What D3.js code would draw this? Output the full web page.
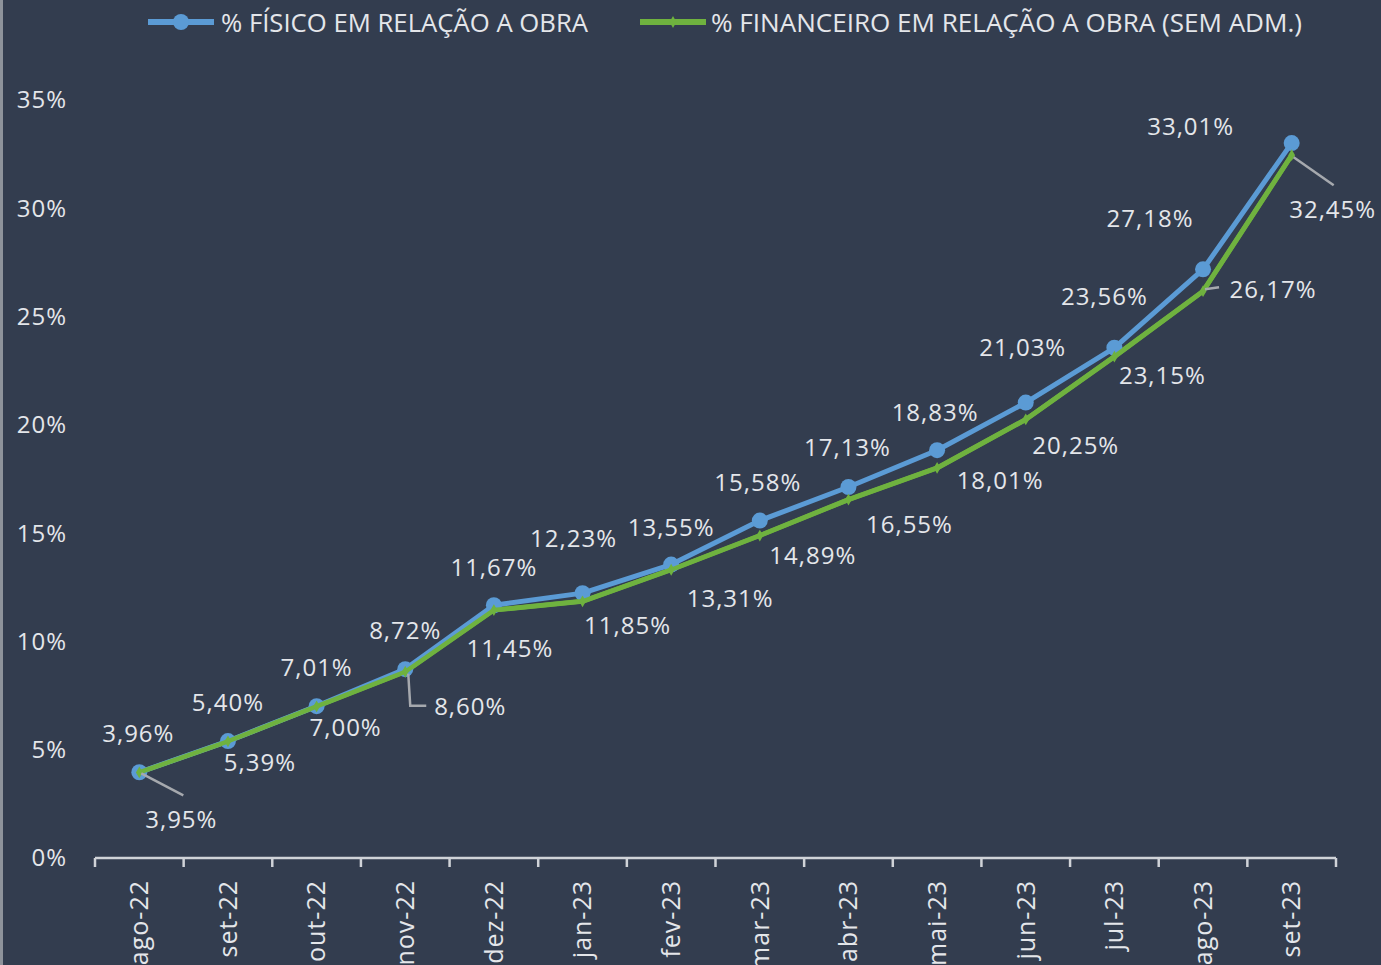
<!DOCTYPE html>
<html>
<head>
<meta charset="utf-8">
<script src="https://cdn.jsdelivr.net/npm/d3@7"></script>
<style>
  html, body { margin: 0; padding: 0; background: #333d4f; overflow: hidden; }
  svg { display: block; }
</style>
</head>
<body>
<div id="chart"></div>
<script>
const months = ["ago-22", "set-22", "out-22", "nov-22", "dez-22", "jan-23", "fev-23",
  "mar-23", "abr-23", "mai-23", "jun-23", "jul-23", "ago-23", "set-23"];
const fisico = [3.96, 5.40, 7.01, 8.72, 11.67, 12.23, 13.55, 15.58, 17.13, 18.83, 21.03, 23.56, 27.18, 33.01];
const financeiro = [3.95, 5.39, 7.00, 8.60, 11.45, 11.85, 13.31, 14.89, 16.55, 18.01, 20.25, 23.15, 26.17, 32.45];
const yTicks = [0, 5, 10, 15, 20, 25, 30, 35];
const seriesNames = ["% FÍSICO EM RELAÇÃO A OBRA", "% FINANCEIRO EM RELAÇÃO A OBRA (SEM ADM.)"];

// label offsets (pixels from the point) to mimic the placed data labels
const fisicoOff = [[-1,-39],[0,-38],[0,-39],[0,-39],[0,-38],[-9,-55],[0,-37],[-2,-38],[-1,-39],[-2,-38],[-3,-55],[-10,-51],[-53,-51],[-101,-16]];
const finOff = [[42,47],[32,21],[29,21],[65,35],[16,39],[45,24],[59,29],[53,20],[61,25],[63,13],[50,26],[48,19],[70,-2],[41,54]];

const width = 1381, height = 965;
const blue = "#5b9bd5", green = "#6fb23f", txt = "#e4e6ea";
const font = "'Open Sans', 'Noto Sans', sans-serif";

const svg = d3.select("#chart").append("svg")
  .attr("width", width).attr("height", height);

svg.append("rect").attr("x", 1.5).attr("y", -2).attr("width", width + 4).attr("height", height + 4)
  .attr("fill", "#333d4f").attr("stroke", "#8e939b").attr("stroke-width", 3);

const x = d3.scaleBand().domain(months).range([95, 1336]);
const y = d3.scaleLinear().domain([0, 35]).range([858, 100]);
const cx = (i) => x(months[i]) + x.bandwidth() / 2;

// y axis labels
svg.append("g").selectAll("text").data(yTicks).enter().append("text")
  .attr("x", 67).attr("y", (d) => y(d))
  .attr("dy", "0.35em")
  .attr("text-anchor", "end")
  .style("font-family", font).style("font-size", "24px").style("letter-spacing", "1px").style("fill", txt)
  .text((d) => d + "%");

// x axis
const xAxis = svg.append("g").attr("transform", "translate(0,858)");
xAxis.append("line").attr("x1", 95).attr("x2", 1336).attr("y1", 0).attr("y2", 0)
  .attr("stroke", "#d0d3d8").attr("stroke-width", 2.5);
xAxis.selectAll(".tk").data(months.concat(["end"])).enter().append("line")
  .attr("x1", (d, i) => 95 + i * x.bandwidth()).attr("x2", (d, i) => 95 + i * x.bandwidth())
  .attr("y1", 0).attr("y2", 9)
  .attr("stroke", "#d0d3d8").attr("stroke-width", 2.5);
xAxis.selectAll(".lbl").data(months).enter().append("text")
  .attr("transform", (d) => `translate(${x(d) + x.bandwidth() / 2},22) rotate(-90)`)
  .attr("dy", "0.35em")
  .attr("text-anchor", "end")
  .style("font-family", font).style("font-size", "25px").style("letter-spacing", "1px").style("fill", txt)
  .text((d) => d);

const line = d3.line().x((d, i) => cx(i)).y((d) => y(d));

// green series
svg.append("path").datum(financeiro).attr("d", line)
  .attr("fill", "none").attr("stroke", green).attr("stroke-width", 5).attr("stroke-linejoin", "round");
// blue series
svg.append("path").datum(fisico).attr("d", line)
  .attr("fill", "none").attr("stroke", blue).attr("stroke-width", 5).attr("stroke-linejoin", "round");
svg.append("g").selectAll("circle").data(fisico).enter().append("circle")
  .attr("cx", (d, i) => cx(i)).attr("cy", (d) => y(d)).attr("r", 8).attr("fill", blue);
// green redrawn on top like the original
svg.append("path").datum(financeiro).attr("d", line)
  .attr("fill", "none").attr("stroke", green).attr("stroke-width", 4.5).attr("stroke-linejoin", "round");
svg.append("g").selectAll("path").data(financeiro).enter().append("path")
  .attr("d", d3.symbol().type(d3.symbolDiamond).size(40))
  .attr("transform", (d, i) => `translate(${cx(i)},${y(d)})`)
  .attr("fill", green);

// leader lines for some green labels
const leaders = svg.append("g").attr("stroke", "#a6a9ae").attr("stroke-width", 2.5).attr("fill", "none");
leaders.append("path").attr("d", `M${cx(0) + 2},${y(financeiro[0]) + 1}L${cx(0) + 44},${y(financeiro[0]) + 23}`);
leaders.append("path").attr("d", `M${cx(3) + 3},${y(financeiro[3]) + 2}L${cx(3) + 5},${y(financeiro[3]) + 34}L${cx(3) + 21},${y(financeiro[3]) + 34}`);
leaders.append("path").attr("d", `M${cx(12) + 2},${y(financeiro[12]) - 2}L${cx(12) + 16},${y(financeiro[12]) - 4}`);
leaders.append("path").attr("d", `M${cx(13) + 2},${y(financeiro[13]) + 2}L${cx(13) + 42},${y(financeiro[13]) + 30}`);

const fmt = (v) => v.toFixed(2).replace(".", ",") + "%";

svg.append("g").selectAll("text").data(fisico).enter().append("text")
  .attr("x", (d, i) => cx(i) + fisicoOff[i][0]).attr("y", (d, i) => y(d) + fisicoOff[i][1])
  .attr("dy", "0.35em").attr("text-anchor", "middle")
  .style("font-family", font).style("font-size", "24px").style("letter-spacing", "1px").style("fill", txt)
  .text(fmt);

svg.append("g").selectAll("text").data(financeiro).enter().append("text")
  .attr("x", (d, i) => cx(i) + finOff[i][0]).attr("y", (d, i) => y(d) + finOff[i][1])
  .attr("dy", "0.35em").attr("text-anchor", "middle")
  .style("font-family", font).style("font-size", "24px").style("letter-spacing", "1px").style("fill", txt)
  .text(fmt);

// legend
const lg = svg.append("g");
lg.append("line").attr("x1", 148).attr("x2", 214).attr("y1", 22).attr("y2", 22)
  .attr("stroke", blue).attr("stroke-width", 6);
lg.append("circle").attr("cx", 181).attr("cy", 22).attr("r", 8).attr("fill", blue);
lg.append("text").attr("x", 221).attr("y", 23).attr("dy", "0.35em")
  .attr("textLength", 367).attr("lengthAdjust", "spacingAndGlyphs")
  .style("font-family", font).style("font-size", "25px").style("fill", txt)
  .text(seriesNames[0]);
lg.append("line").attr("x1", 640).attr("x2", 706).attr("y1", 22).attr("y2", 22)
  .attr("stroke", green).attr("stroke-width", 6);
lg.append("path").attr("d", d3.symbol().type(d3.symbolDiamond).size(40))
  .attr("transform", "translate(673,22)").attr("fill", green);
lg.append("text").attr("x", 711).attr("y", 23).attr("dy", "0.35em")
  .attr("textLength", 591).attr("lengthAdjust", "spacingAndGlyphs")
  .style("font-family", font).style("font-size", "25px").style("fill", txt)
  .text(seriesNames[1]);
</script>
</body>
</html>
